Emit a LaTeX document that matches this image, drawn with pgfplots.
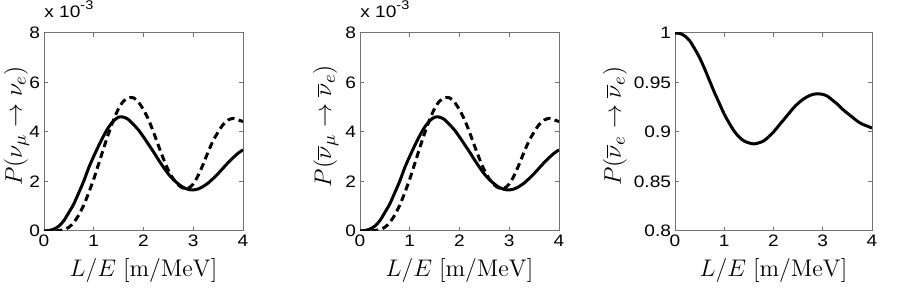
\documentclass[border=0pt]{standalone}
\usepackage{pgfplots}
\pgfplotsset{compat=1.18}
\usepackage{pgfplotstable}
\usepackage[no-math]{fontspec}
\setmainfont{Liberation Sans}
\newfontfamily\tickfont[FakeStretch=1.15]{Liberation Sans}

\pgfplotstableread{
x y
0.0 0.0
0.1 0.02
0.2 0.08
0.3 0.2
0.4 0.42
0.5 0.75
0.6 1.1
0.7 1.55
0.8 2.02
0.9 2.56
1.0 3.02
1.1 3.45
1.2 3.85
1.3 4.2
1.4 4.45
1.5 4.6
1.6 4.6
1.7 4.5
1.8 4.3
1.9 4.08
2.0 3.8
2.1 3.5
2.2 3.2
2.3 2.88
2.4 2.58
2.5 2.3
2.6 2.08
2.7 1.9
2.8 1.76
2.9 1.68
3.0 1.66
3.1 1.7
3.2 1.8
3.3 1.94
3.4 2.12
3.5 2.32
3.6 2.54
3.7 2.76
3.8 2.96
3.9 3.14
4.0 3.28
}\solidtab

\pgfplotstableread{
x y
0.0 0.0
0.2 0.0
0.3 0.02
0.4 0.06
0.5 0.15
0.6 0.35
0.7 0.65
0.8 1.05
0.9 1.55
1.0 2.1
1.1 2.72
1.2 3.35
1.3 3.95
1.4 4.5
1.5 4.95
1.6 5.25
1.7 5.38
1.8 5.38
1.9 5.2
2.0 4.9
2.1 4.5
2.2 4.0
2.3 3.45
2.4 2.92
2.5 2.45
2.6 2.1
2.7 1.86
2.8 1.73
2.9 1.73
3.0 1.9
3.1 2.25
3.2 2.7
3.3 3.2
3.4 3.65
3.5 4.0
3.6 4.3
3.7 4.48
3.8 4.55
3.9 4.49
4.0 4.42
}\dashtab

\pgfplotstableread{
x y
0.0 1.0
0.1 0.9995
0.2 0.997
0.3 0.992
0.4 0.984
0.5 0.975
0.6 0.964
0.7 0.952
0.8 0.94
0.9 0.929
1.0 0.918
1.1 0.909
1.2 0.901
1.3 0.895
1.4 0.891
1.5 0.889
1.6 0.888
1.7 0.889
1.8 0.891
1.9 0.895
2.0 0.9
2.1 0.906
2.2 0.912
2.3 0.918
2.4 0.924
2.5 0.929
2.6 0.933
2.7 0.936
2.8 0.938
2.9 0.9385
3.0 0.938
3.1 0.936
3.2 0.932
3.3 0.928
3.4 0.923
3.5 0.919
3.6 0.915
3.7 0.911
3.8 0.908
3.9 0.906
4.0 0.904
}\eetab

\pgfplotsset{
  myax/.style={
    scale only axis, width=99.5pt, height=99pt,
    anchor=south west, clip mode=individual,
    xmin=0, xmax=4, xtick={0,1,2,3,4},
    axis line style={black!55, line width=0.5pt},
    tick style={black!55, line width=0.5pt},
    major tick length=2pt, tick align=inside,
    ticklabel style={font=\tickfont\fontsize{8.3}{9}\selectfont, inner sep=1.8pt},
    /pgf/number format/assume math mode=true,
    xlabel={$L/E\ [\mathrm{m/MeV}]$},
    xlabel style={font=\fontsize{12.3}{14}\selectfont, at={(axis description cs:0.5,-0.202)}, anchor=center},
    ylabel style={font=\fontsize{13.2}{15}\selectfont, anchor=center},
  },
  sol/.style={black, line width=1.5pt, smooth},
  das/.style={black, line width=1.5pt, smooth, dash pattern=on 3.5pt off 2.2pt},
}
\tikzset{expo/.style={anchor=base west, inner sep=0pt, font=\tickfont\fontsize{8.3}{9}\selectfont}}
\newcommand{\expolabel}{x 10\raisebox{4pt}{\fontsize{6.3}{7}\selectfont -3}}

\begin{document}
\begin{tikzpicture}
\useasboundingbox (0pt,0pt) rectangle (449.5pt,147pt);

\begin{axis}[myax, at={(22pt,31.5pt)},
  ymin=0, ymax=8, ytick={0,2,4,6,8},
  ylabel={$P(\nu_\mu \rightarrow \nu_e)$},
  ylabel style={at={(axis description cs:-0.138,0.53)}}]
\addplot[sol] table[x=x,y=y] {\solidtab};
\addplot[das] table[x=x,y=y] {\dashtab};
\node[expo] at (rel axis cs:0,1) [yshift=7.8pt] {\expolabel};
\end{axis}

\begin{axis}[myax, at={(180pt,31.5pt)},
  ymin=0, ymax=8, ytick={0,2,4,6,8},
  ylabel={$P(\overline{\nu}_\mu \rightarrow \overline{\nu}_e)$},
  ylabel style={at={(axis description cs:-0.172,0.53)}}]
\addplot[sol] table[x=x,y=y] {\solidtab};
\addplot[das] table[x=x,y=y] {\dashtab};
\node[expo] at (rel axis cs:0,1) [yshift=7.8pt] {\expolabel};
\end{axis}

\begin{axis}[myax, at={(337.5pt,31.5pt)}, width=98.5pt,
  ymin=0.8, ymax=1, ytick={0.8,0.85,0.9,0.95,1},
  yticklabels={0.8,0.85,0.9,0.95,1},
  ylabel={$P(\overline{\nu}_e \rightarrow \overline{\nu}_e)$},
  ylabel style={at={(axis description cs:-0.305,0.53)}}]
\addplot[sol] table[x=x,y=y] {\eetab};
\end{axis}
\end{tikzpicture}
\end{document}
